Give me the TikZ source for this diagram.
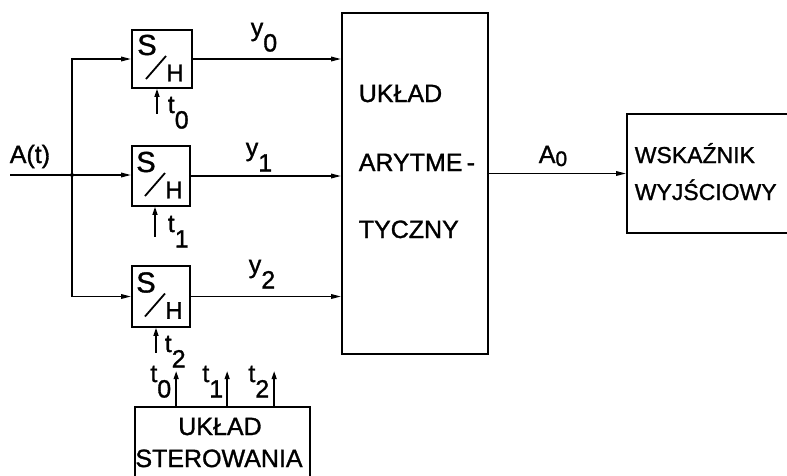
\documentclass[tikz,border=0pt]{standalone}
\usepackage{fontspec}
\setmainfont[FakeBold=1.2]{Liberation Sans}
\usetikzlibrary{arrows.meta}
\newcommand\lsub[1]{\raisebox{-0.62em}{#1}}
\begin{document}
\begin{tikzpicture}[x=1pt,y=-1pt, line width=1.6pt,
  box/.style={draw, line width=1.7pt, inner sep=0pt},
  lbl/.style={font=\fontsize{25}{27}\selectfont, inner sep=0pt},
  wlbl/.style={font=\fontsize{23}{25}\selectfont, inner sep=0pt},
  shS/.style={font=\fontsize{29}{29}\selectfont, inner sep=0pt},
  shH/.style={font=\fontsize{24}{24}\selectfont, inner sep=0pt},
  sig/.style={-{Triangle[length=10pt,width=4.5pt]}},
  tarr/.style={-{Triangle[length=8pt,width=5pt]}, line width=1.4pt}]
\useasboundingbox (0,0) rectangle (787,475);
% blocks
\node[box, minimum width=60pt, minimum height=58pt] (sh0) at (162,59) {};
\node[box, minimum width=58pt, minimum height=60pt] (sh1) at (161,176) {};
\node[box, minimum width=58pt, minimum height=61pt] (sh2) at (161,296.5) {};
\node[box, minimum width=146pt, minimum height=341pt] (ar) at (415,183.5) {};
\node[box, minimum width=170pt, minimum height=119pt] (wsk) at (712,173.5) {};
\node[box, minimum width=175pt, minimum height=90pt] (ster) at (222.5,452) {};
% S/H marks
\foreach \n in {sh0,sh1,sh2}{
  \node[shS] (\n S) at ([xshift=-15pt,yshift=14pt]\n.center) {S};
  \node[shH] (\n H) at ([xshift=13pt,yshift=-14pt]\n.center) {H};
  \draw[line width=1.8pt] ([xshift=-16pt,yshift=-20pt]\n.center) -- ([xshift=4pt,yshift=3pt]\n.center);
}
% input and bus
\coordinate (in) at (10,175);
\coordinate (j) at (72,175);
\node[lbl, anchor=base west] (At) at (9,163) {A(t)};
\draw (in) -- (j);
\draw[sig] (j) -- (j -| sh1.west);
\draw[sig] (j) |- (sh0.west);
\draw[sig] (j) |- (sh2.west);
\fill (j) circle (2pt);
% outputs
\draw[sig] (sh0.east) -- (sh0.east -| ar.west);
\draw[sig] (sh1.east) -- (sh1.east -| ar.west);
\draw[sig] (sh2.east) -- (sh2.east -| ar.west);
\node[lbl, anchor=base west] (y0) at (250,36) {y\lsub{0}};
\node[lbl, anchor=base west] (y1) at (245,156) {y\lsub{1}};
\node[lbl, anchor=base west] (y2) at (248,273) {y\lsub{2}};
\draw[sig] (wsk.west -| ar.east) -- (wsk.west);
\node[lbl, anchor=base west] (A0) at (538,163) {A\raisebox{-0.12em}{\fontsize{21}{21}\selectfont 0}};
% texts in boxes
\node[lbl, anchor=base west] (ar1) at (358,102) {UKŁAD};
\node[lbl, anchor=base west] (ar2) at (358,171) {ARYTME\,-};
\node[lbl, anchor=base west] (ar3) at (358,238) {TYCZNY};
\node[wlbl, anchor=base west] (wsk1) at (634,163) {WSKAŹNIK};
\node[wlbl, anchor=base west] (wsk2) at (634,200) {WYJŚCIOWY};
\node[lbl, anchor=base] (st1) at (220,435) {UKŁAD};
\node[lbl, anchor=base] (st2) at (219,467) {STEROWANIA};
% sampling instants at S/H
\draw[tarr] ([xshift=-5pt,yshift=-25pt]sh0.south) -- ([xshift=-5pt]sh0.south);
\draw[tarr] ([xshift=-6pt,yshift=-30pt]sh1.south) -- ([xshift=-6pt]sh1.south);
\draw[tarr] ([xshift=-5pt,yshift=-25pt]sh2.south) -- ([xshift=-5pt]sh2.south);
\node[lbl, anchor=base west] (ts0) at (167,113) {t\lsub{0}};
\node[lbl, anchor=base west] (ts1) at (167,232) {t\lsub{1}};
\node[lbl, anchor=base west] (ts2) at (164,352) {t\lsub{2}};
% control outputs
\draw[tarr] ([xshift=42pt]ster.north west) -- ++(0,-35);
\draw[tarr] ([xshift=93pt]ster.north west) -- ++(0,-35);
\draw[tarr] ([xshift=140pt]ster.north west) -- ++(0,-35);
\node[lbl, anchor=base east] (tc0) at (172,382) {t\lsub{0}};
\node[lbl, anchor=base east] (tc1) at (224,382) {t\lsub{1}};
\node[lbl, anchor=base east] (tc2) at (270,382) {t\lsub{2}};
\end{tikzpicture}
\end{document}
